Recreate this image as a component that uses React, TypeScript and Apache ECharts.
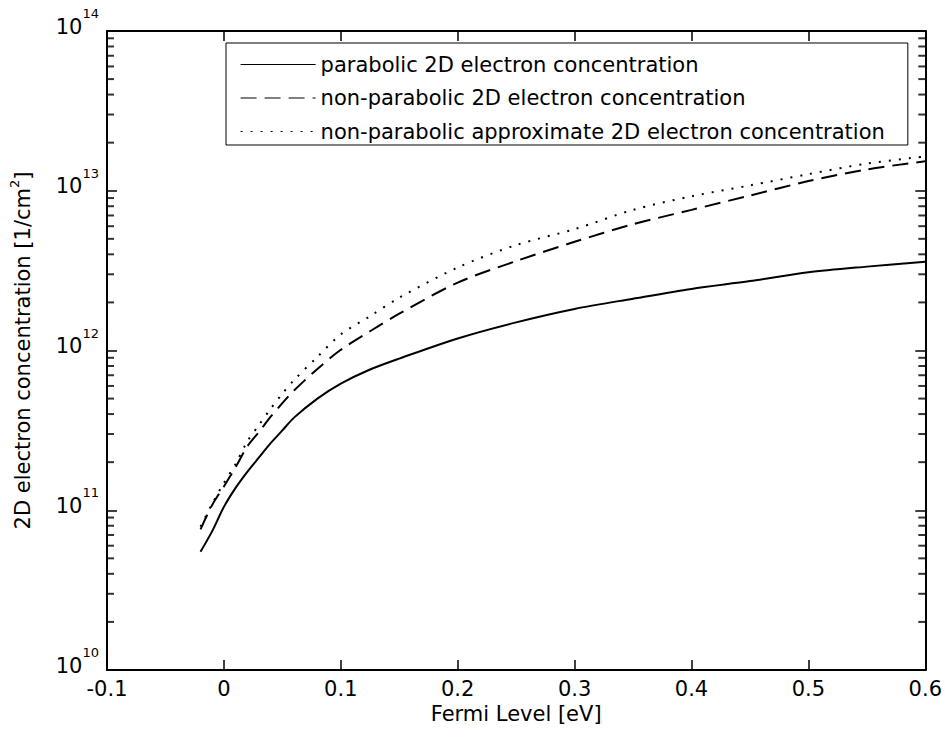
import React, { useEffect, useRef } from "react";
import * as echarts from "echarts";

// Fermi level [eV]
const fermiLevel = [
  -0.02, -0.01, 0, 0.01, 0.02, 0.03, 0.04, 0.05, 0.06, 0.08, 0.1, 0.125, 0.15,
  0.2, 0.25, 0.3, 0.35, 0.4, 0.45, 0.5, 0.55, 0.6,
];
// 2D electron concentration [1/cm^2]
const parabolic = [
  5.5e10, 7.4e10, 1.05e11, 1.38e11, 1.74e11, 2.14e11, 2.63e11, 3.16e11, 3.8e11,
  5.0e11, 6.2e11, 7.6e11, 8.9e11, 1.19e12, 1.5e12, 1.82e12, 2.11e12, 2.43e12,
  2.72e12, 3.09e12, 3.35e12, 3.59e12,
];
const nonParabolic = [
  7.6e10, 1.08e11, 1.41e11, 1.86e11, 2.51e11, 3.09e11, 3.85e11, 4.68e11,
  5.62e11, 7.67e11, 1.01e12, 1.32e12, 1.7e12, 2.66e12, 3.63e12, 4.79e12,
  6.17e12, 7.59e12, 9.33e12, 1.15e13, 1.36e13, 1.53e13,
];
const nonParabolicApprox = [
  7.9e10, 1.1e11, 1.48e11, 1.95e11, 2.69e11, 3.42e11, 4.32e11, 5.37e11,
  6.53e11, 9.12e11, 1.26e12, 1.64e12, 2.14e12, 3.31e12, 4.57e12, 5.75e12,
  7.59e12, 9.23e12, 1.08e13, 1.27e13, 1.48e13, 1.64e13,
];

const seriesNames = [
  "parabolic 2D electron concentration",
  "non-parabolic 2D electron concentration",
  "non-parabolic approximate 2D electron concentration",
];

const xTickLabels = ["-0.1", "0", "0.1", "0.2", "0.3", "0.4", "0.5", "0.6"];
const xRange = [-0.1, 0.6];
const yDecades = [1e10, 1e11, 1e12, 1e13];
const minorMultipliers = [2, 3, 4, 5, 6, 7, 8, 9];

const FONT = "DejaVu Sans";

const minorTickValues: number[] = [];
yDecades.forEach((d) => minorMultipliers.forEach((m) => minorTickValues.push(m * d)));

const pairs = (ys: number[]) => fermiLevel.map((x, i) => [x, ys[i]]);

const spine = { show: true, onZero: false, lineStyle: { color: "#000", width: 2 } };
const majorTick = { show: true, inside: true, length: 10, lineStyle: { color: "#000", width: 1.5 } };

// minor log ticks drawn as small rect symbols sitting on the left / right spines
const minorTickSeries = (x: number, dir: number) => ({
  type: "scatter",
  xAxisIndex: 0,
  yAxisIndex: 0,
  silent: true,
  clip: false,
  z: 10,
  symbol: "rect",
  symbolSize: [7, 2],
  symbolOffset: [3.5 * dir, 0],
  itemStyle: { color: "#000" },
  data: minorTickValues.map((v) => [x, v]),
  tooltip: { show: false },
});

const option: any = {
  animation: false,
  backgroundColor: "#fff",
  grid: { left: 105, right: 19, top: 31, bottom: 70, containLabel: false },
  legend: {
    orient: "vertical",
    left: 226,
    top: 43,
    itemWidth: 75,
    itemHeight: 14,
    itemGap: 12.5,
    padding: [11, 23, 3, 14],
    borderColor: "#000",
    borderWidth: 1,
    backgroundColor: "#fff",
    selectedMode: false,
    textStyle: { fontSize: 21, fontFamily: FONT, color: "#000" },
    itemStyle: { opacity: 0 },
    lineStyle: { width: 1.2 },
    data: seriesNames,
  },
  xAxis: [
    {
      type: "value",
      min: xRange[0],
      max: xRange[1],
      interval: 0.1,
      position: "bottom",
      axisLine: spine,
      axisTick: majorTick,
      splitLine: { show: false },
      axisLabel: {
        color: "#000",
        fontSize: 21,
        fontFamily: FONT,
        margin: 8,
        formatter: (v: number) => xTickLabels[Math.round((v + 0.1) * 10)] ?? "",
      },
      name: "Fermi Level [eV]",
      nameLocation: "middle",
      nameGap: 28,
      nameTextStyle: { color: "#000", fontSize: 21, fontFamily: FONT },
    },
    {
      type: "value",
      min: xRange[0],
      max: xRange[1],
      interval: 0.1,
      position: "top",
      axisLine: spine,
      axisTick: majorTick,
      axisLabel: { show: false },
      splitLine: { show: false },
    },
  ],
  yAxis: [
    {
      type: "log",
      logBase: 10,
      min: 1e10,
      max: 1e14,
      splitNumber: 4,
      position: "left",
      axisLine: spine,
      axisTick: majorTick,
      splitLine: { show: false },
      axisLabel: {
        margin: 8,
        formatter: (v: number) => `{b|10}{s|${Math.round(Math.log10(v))}}`,
        rich: {
          b: {
            fontSize: 21,
            fontFamily: FONT,
            color: "#000",
            lineHeight: 24,
            padding: [0, 0, 6, 0],
            verticalAlign: "bottom",
          },
          s: {
            fontSize: 13,
            fontFamily: FONT,
            color: "#000",
            lineHeight: 13,
            padding: [0, 0, 23, 0],
            verticalAlign: "bottom",
          },
        },
      },
      name: "{a|2D electron concentration [1/cm}{s|2}{a|]}",
      nameLocation: "middle",
      nameGap: 74,
      nameTextStyle: {
        color: "#000",
        fontSize: 21,
        fontFamily: FONT,
        rich: {
          a: { fontSize: 21, fontFamily: FONT, color: "#000", lineHeight: 24, verticalAlign: "bottom" },
          s: {
            fontSize: 13,
            fontFamily: FONT,
            color: "#000",
            lineHeight: 13,
            padding: [0, 0, 12, 0],
            verticalAlign: "bottom",
          },
        },
      },
    },
    {
      type: "log",
      logBase: 10,
      min: 1e10,
      max: 1e14,
      splitNumber: 4,
      position: "right",
      axisLine: spine,
      axisTick: majorTick,
      axisLabel: { show: false },
      splitLine: { show: false },
    },
  ],
  series: [
    {
      name: seriesNames[0],
      type: "line",
      xAxisIndex: 0,
      yAxisIndex: 0,
      data: pairs(parabolic),
      symbol: "none",
      showSymbol: false,
      smooth: 0.3,
      lineStyle: { color: "#000", width: 2, type: "solid" },
      itemStyle: { color: "#000" },
    },
    {
      name: seriesNames[1],
      type: "line",
      xAxisIndex: 0,
      yAxisIndex: 0,
      data: pairs(nonParabolic),
      symbol: "none",
      showSymbol: false,
      smooth: 0.3,
      lineStyle: { color: "#000", width: 2, type: [16, 8] },
      itemStyle: { color: "#000" },
    },
    {
      name: seriesNames[2],
      type: "line",
      xAxisIndex: 0,
      yAxisIndex: 0,
      data: pairs(nonParabolicApprox),
      symbol: "none",
      showSymbol: false,
      smooth: 0.3,
      lineStyle: { color: "#000", width: 2, type: [2, 8] },
      itemStyle: { color: "#000" },
    },
    minorTickSeries(xRange[0], 1),
    minorTickSeries(xRange[1], -1),
  ],
};

export default function App() {
  const ref = useRef<HTMLDivElement>(null);
  useEffect(() => {
    document.body.style.margin = "0";
    const chart = echarts.init(ref.current!, null, { renderer: "svg" });
    chart.setOption(option);
    return () => chart.dispose();
  }, []);
  return <div ref={ref} style={{ width: 945, height: 740, background: "#fff" }} />;
}
